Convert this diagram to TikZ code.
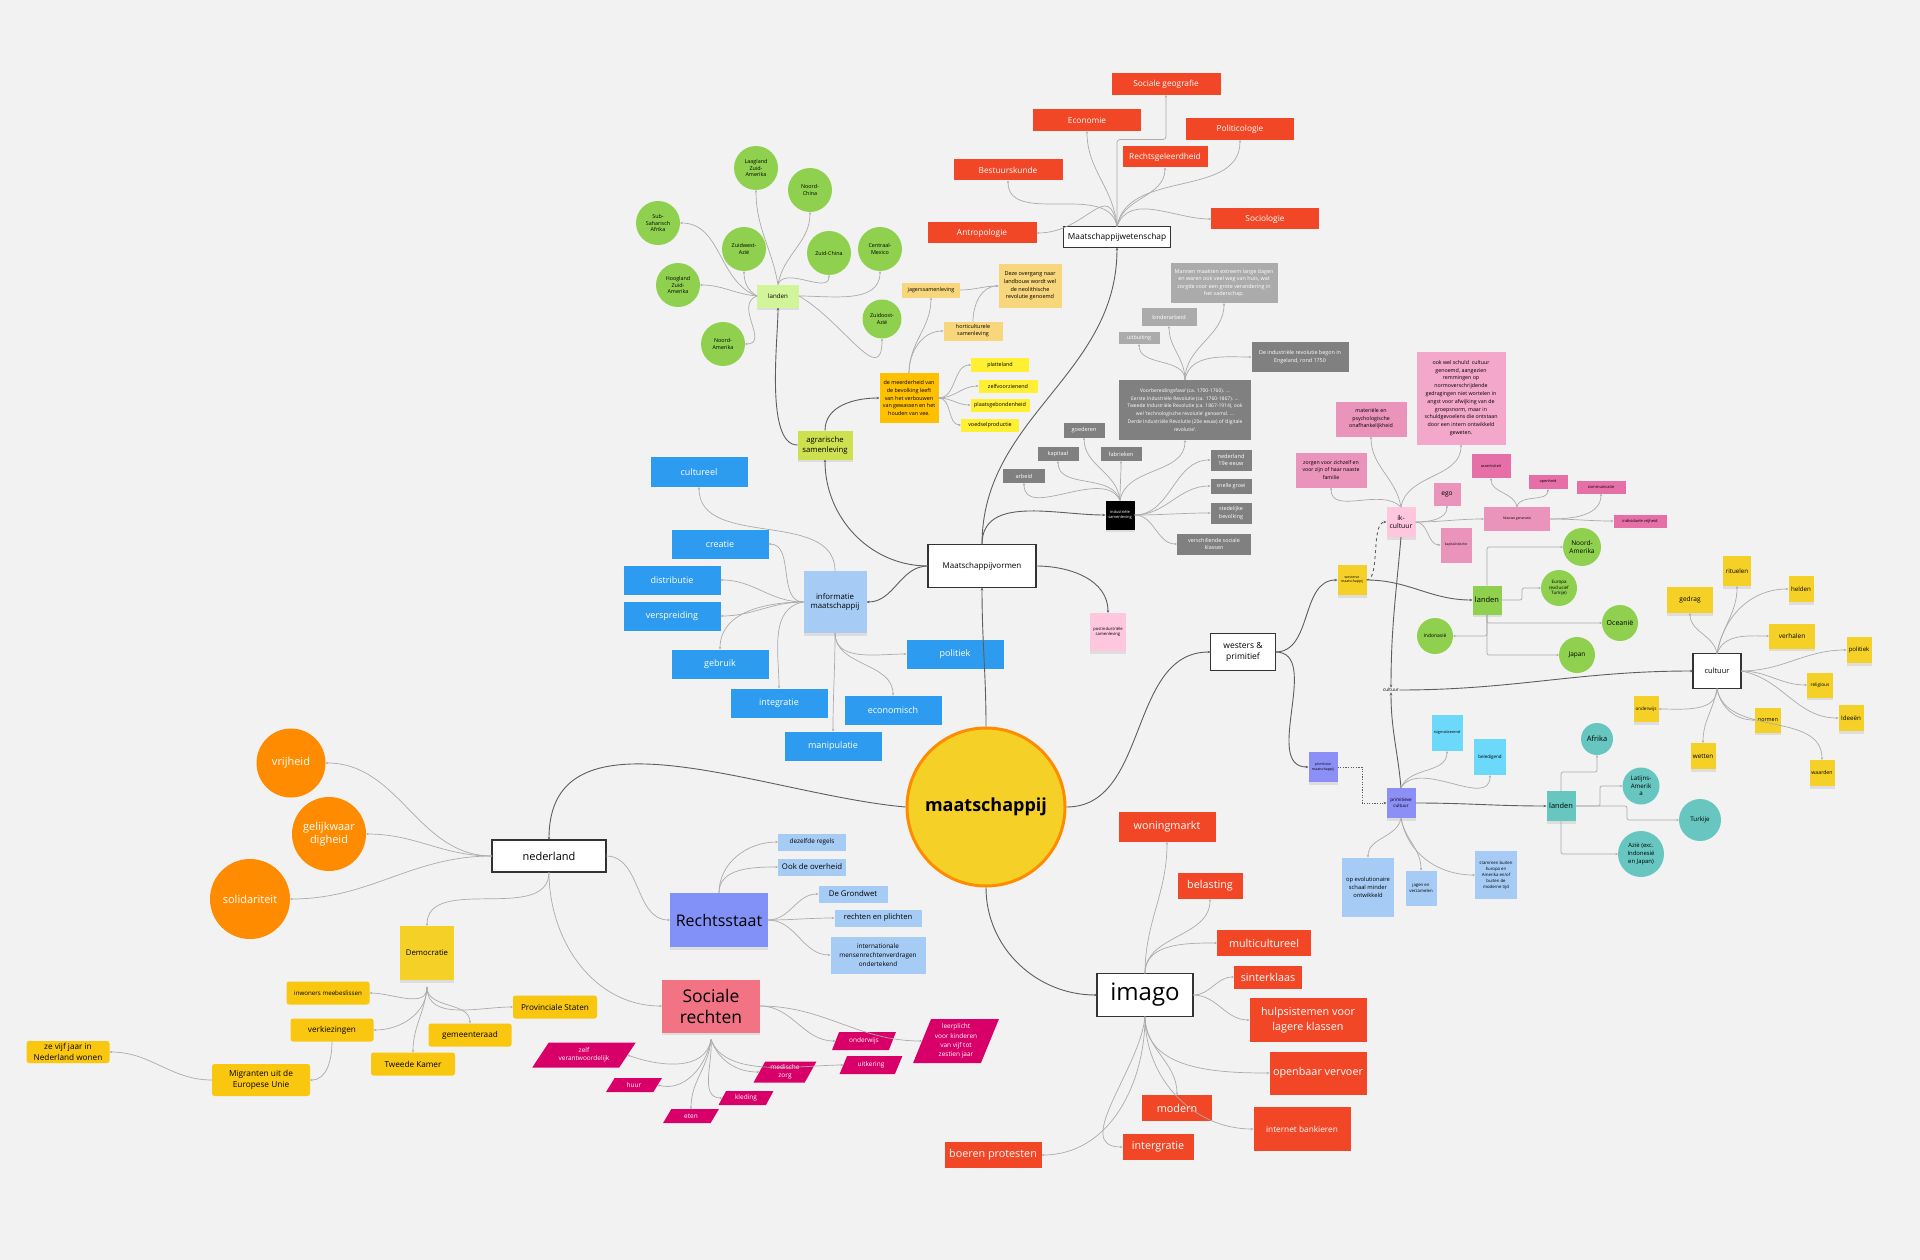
\documentclass[tikz,border=0pt]{standalone}
\usepackage{fontspec}
\setmainfont{Open Sans}
\usetikzlibrary{arrows.meta,shapes.geometric,shadows}
\definecolor{cBg}{HTML}{F2F2F2}
\definecolor{cRed}{HTML}{F24726}
\definecolor{cGreen}{HTML}{8FD14F}
\definecolor{cLGreen}{HTML}{D3F59A}
\definecolor{cLime}{HTML}{CDE04F}
\definecolor{cSand}{HTML}{F7D67C}
\definecolor{cAmber}{HTML}{FAC710}
\definecolor{cGold}{HTML}{FFC000}
\definecolor{cYel}{HTML}{F5D128}
\definecolor{cLemon}{HTML}{FFF033}
\definecolor{cGreyL}{HTML}{ABABAB}
\definecolor{cGreyD}{HTML}{808080}
\definecolor{cPink}{HTML}{EA94BB}
\definecolor{cPinkL}{HTML}{F2A7CB}
\definecolor{cPinkP}{HTML}{FFC7DD}
\definecolor{cPinkD}{HTML}{E66FA8}
\definecolor{cBlue}{HTML}{2D9BF0}
\definecolor{cLBlue}{HTML}{A6CCF5}
\definecolor{cViolet}{HTML}{8291F7}
\definecolor{cPurp}{HTML}{8B8FF6}
\definecolor{cCyan}{HTML}{6CD8FA}
\definecolor{cTeal}{HTML}{67C6C0}
\definecolor{cOrange}{HTML}{FF8C00}
\definecolor{cSalmon}{HTML}{F27384}
\definecolor{cMag}{HTML}{D80068}
\definecolor{cLine}{HTML}{ABABAB}
\definecolor{cLineD}{HTML}{5E5E5E}
\newcommand\mmfs[2]{\fontsize{#1}{#2}\selectfont}
\newcommand\mmbox[7]{\node[#2,minimum width=#5,minimum height=#6] (#1) at (#3,#4) {#7};}
\newcommand\mmcirc[6]{\node[#2,minimum size=#5] (#1) at (#3,#4) {#6};}
\begin{document}
\begin{tikzpicture}[x=1pt,y=-1pt,
  base/.style={align=center, inner sep=0.5pt, outer sep=0pt},
  shd/.style={drop shadow={shadow xshift=0pt, shadow yshift=-2.5pt, opacity=0.18}},
  rbox/.style={base, fill=cRed, text=white},
  wbox/.style={base, fill=white, draw=black!80, line width=1.2pt},
  gcirc/.style={base, circle, fill=cGreen},
  ocirc/.style={base, circle, fill=cOrange, text=white},
  tcirc/.style={base, circle, fill=cTeal},
  bbox/.style={base, fill=cBlue, text=white},
  lbbox/.style={base, fill=cLBlue},
  gryl/.style={base, fill=cGreyL, text=white},
  gryd/.style={base, fill=cGreyD, text=white},
  pnk/.style={base, fill=cPink},
  ylw/.style={base, fill=cYel, shd},
  amb/.style={base, fill=cAmber, rounded corners=2.5pt},
  mag/.style={base, trapezium, trapezium left angle=60, trapezium right angle=120, trapezium stretches=true, fill=cMag, text=white, font=\mmfs{6.5}{8}},
  ln/.style={draw=cLine, line width=0.7pt, -{Stealth[length=2.6pt,width=2.2pt]}},
  lnd/.style={draw=cLineD, line width=0.9pt, -{Stealth[length=3pt,width=2.6pt]}}]
\fill[cBg] (0,0) rectangle (1920,1260);
\path[use as bounding box] (0,0) rectangle (1920,1260);

% ---------- top-left: agrarian ----------
\mmcirc{c1}{gcirc,font=\mmfs{5.4}{6.6}}{756}{168}{44}{Laagland\\Zuid-\\Amerika}
\mmcirc{c2}{gcirc,font=\mmfs{5.4}{6.6}}{810}{190}{44}{Noord-\\China}
\mmcirc{c3}{gcirc,font=\mmfs{5.4}{6.6}}{658}{223}{44}{Sub-\\Saharisch\\Afrika}
\mmcirc{c4}{gcirc,font=\mmfs{5.4}{6.6}}{744}{249}{44}{Zuidwest-\\Azië}
\mmcirc{c5}{gcirc,font=\mmfs{5.4}{6.6}}{829}{253}{44}{Zuid-China}
\mmcirc{c6}{gcirc,font=\mmfs{5.4}{6.6}}{880}{249}{44}{Centraal-\\Mexico}
\mmcirc{c7}{gcirc,font=\mmfs{5.4}{6.6}}{678}{285}{44}{Hoogland\\Zuid-\\Amerika}
\mmcirc{c8}{gcirc,font=\mmfs{5.4}{6.6}}{723}{344}{44}{Noord-\\Amerika}
\mmcirc{c9}{gcirc,font=\mmfs{5.4}{6.6}}{882}{319}{39}{Zuidoost-\\Azië}
\mmbox{land1}{base,fill=cLGreen,shd,font=\mmfs{6.2}{7.5}}{778}{296}{42}{23}{landen}
\mmbox{agr}{base,fill=cLime,shd,font=\mmfs{7.7}{10}}{825}{445}{55}{29}{agrarische\\samenleving}
\mmbox{meer}{base,fill=cGold,font=\mmfs{5.4}{7.6}}{909}{398}{59}{50}{de meerderheid van\\de bevolking leeft\\van het verbouwen\\van gewassen en het\\houden van vee.}
\mmbox{jag}{base,fill=cSand,font=\mmfs{5.4}{6.5}}{931}{290}{58}{15}{jagerssamenleving}
\mmbox{deze}{base,fill=cSand,font=\mmfs{5.5}{7.6}}{1030}{286}{63}{43}{Deze overgang naar\\landbouw wordt wel\\de neolithische\\revolutie genoemd}
\mmbox{horti}{base,fill=cSand,font=\mmfs{5.4}{7}}{973}{331}{59}{19}{horticulturele\\samenleving}
\mmbox{platt}{base,fill=cLemon,font=\mmfs{5.4}{6.5}}{1000}{365}{58}{14}{platteland}
\mmbox{zelfv}{base,fill=cLemon,font=\mmfs{5.4}{6.5}}{1008}{386}{59}{13}{zelfvoorzienend}
\mmbox{plaats}{base,fill=cLemon,font=\mmfs{5.4}{6.5}}{1000}{405}{59}{13}{plaatsgebondenheid}
\mmbox{voeds}{base,fill=cLemon,font=\mmfs{5.4}{6.5}}{990}{425}{58}{13}{voedselproductie}

% ---------- top: Maatschappijwetenschap ----------
\mmbox{socgeo}{rbox,font=\mmfs{8.3}{10}}{1166}{84}{109}{22}{Sociale geografie}
\mmbox{econ}{rbox,font=\mmfs{8.3}{10}}{1087}{120}{108}{22}{Economie}
\mmbox{polit}{rbox,font=\mmfs{8.3}{10}}{1240}{129}{108}{22}{Politicologie}
\mmbox{rechtsg}{rbox,font=\mmfs{8.3}{10}}{1165}{157}{85}{21}{Rechtsgeleerdheid}
\mmbox{bestuur}{rbox,font=\mmfs{8.3}{10}}{1008}{170}{109}{21}{Bestuurskunde}
\mmbox{sociol}{rbox,font=\mmfs{8.3}{10}}{1265}{219}{108}{21}{Sociologie}
\mmbox{antro}{rbox,font=\mmfs{8.3}{10}}{982}{233}{109}{21}{Antropologie}
\mmbox{mw}{wbox,font=\mmfs{8.3}{10}}{1117}{237}{107}{21}{Maatschappijwetenschap}

% ---------- industrial ----------
\mmbox{mannen}{gryl,font=\mmfs{5.4}{7.4}}{1224}{283}{107}{40}{Mannen maakten extreem lange dagen\\en waren ook veel weg van huis, wat\\zorgde voor een grote verandering in\\het vaderschap.}
\mmbox{kinder}{gryl,font=\mmfs{5.6}{7}}{1169}{317}{55}{18}{kinderarbeid}
\mmbox{uitb}{gryl,font=\mmfs{5.4}{6.5}}{1139}{338}{41}{12}{uitbuiting}
\mmbox{engel}{gryd,font=\mmfs{5.4}{7.6}}{1300}{357}{97}{30}{De industriële revolutie begon in\\Engeland, rond 1750}
\mmbox{voorb}{gryd,font=\mmfs{5}{7.8}}{1185}{410}{132}{60}{Voorbereidingsfase' (ca. 1700-1760). ...\\Eerste Industriële Revolutie (ca. 1760-1867). ...\\Tweede Industriële Revolutie (ca. 1867-1914), ook\\wel 'technologische revolutie' genoemd. ...\\Derde Industriële Revolutie (20e eeuw) of 'digitale\\revolutie'.}
\mmbox{goed}{gryd,font=\mmfs{5.6}{7}}{1084}{430}{41}{15}{goederen}
\mmbox{kap}{gryd,font=\mmfs{5.6}{7}}{1058}{454}{41}{14}{kapitaal}
\mmbox{fabr}{gryd,font=\mmfs{5.6}{7}}{1121}{454}{41}{14}{fabrieken}
\mmbox{arb}{gryd,font=\mmfs{5.6}{7}}{1024}{476}{42}{14}{arbeid}
\mmbox{ned19}{gryd,font=\mmfs{5.6}{7.4}}{1231}{460}{41}{21}{nederland\\19e eeuw}
\mmbox{snel}{gryd,font=\mmfs{5.4}{7}}{1231}{486}{41}{15}{snelle groei}
\mmbox{sted}{gryd,font=\mmfs{5.4}{7.4}}{1231}{513}{41}{21}{stedelijke\\bevolking}
\mmbox{versch}{gryd,font=\mmfs{5.4}{7.4}}{1214}{544}{74}{21}{verschillende sociale\\klassen}
\mmbox{ind}{base,fill=black,text=white,shd,font=\mmfs{4}{5}}{1120}{515}{29}{29}{industriële\\samenleving}

% ---------- centre ----------
\node[circle, fill=cYel, draw=cOrange, line width=3pt, minimum size=158, font=\bfseries\mmfs{18}{22}] (maat) at (986,807) {maatschappij};
\mmbox{mv}{wbox,font=\mmfs{8}{10}}{982}{566}{108}{43}{Maatschappijvormen}
\mmbox{post}{base,fill=cPinkP,shd,font=\mmfs{4.2}{5.2}}{1108}{632}{36}{38}{postindustriële\\samenleving}
\mmbox{wp}{wbox,font=\mmfs{8.5}{11}}{1243}{652}{65}{37}{westers \&\\primitief}

% ---------- informatie maatschappij ----------
\mmbox{info}{base,fill=cLBlue,shd,font=\mmfs{7.8}{9.5}}{835}{602}{63}{62}{informatie\\maatschappij}
\mmbox{cult}{bbox,font=\mmfs{9}{11}}{699}{472}{97}{30}{cultureel}
\mmbox{creat}{bbox,font=\mmfs{9}{11}}{720}{544}{97}{29}{creatie}
\mmbox{distr}{bbox,font=\mmfs{9}{11}}{672}{580}{97}{29}{distributie}
\mmbox{versp}{bbox,font=\mmfs{9}{11}}{672}{616}{97}{29}{verspreiding}
\mmbox{gebr}{bbox,font=\mmfs{9}{11}}{720}{664}{97}{29}{gebruik}
\mmbox{integ}{bbox,font=\mmfs{9}{11}}{779}{703}{97}{29}{integratie}
\mmbox{econm}{bbox,font=\mmfs{9}{11}}{893}{710}{97}{29}{economisch}
\mmbox{polb}{bbox,font=\mmfs{9}{11}}{955}{654}{97}{29}{politiek}
\mmbox{manip}{bbox,font=\mmfs{9}{11}}{833}{746}{97}{29}{manipulatie}

% ---------- pink: ik-cultuur ----------
\mmbox{ookwel}{base,fill=cPinkL,font=\mmfs{5.3}{7.8}}{1461}{398}{89}{93}{ook wel schuld\ \ cultuur\\genoemd, aangezien\\remmingen op\\normoverschrijdende\\gedragingen niet wortelen in\\angst voor afwijking van de\\groepsnorm, maar in\\schuldgevoelens die ontstaan\\door een intern ontwikkeld\\geweten.}
\mmbox{mat}{pnk,font=\mmfs{5.3}{7.6}}{1371}{419}{71}{35}{materiële en\\psychologische\\onafhankelijkheid}
\mmbox{zorg}{pnk,font=\mmfs{5.2}{7.6}}{1331}{470}{71}{35}{zorgen voor zichzelf en\\voor zijn of haar naaste\\familie}
\mmbox{ik}{base,fill=cPinkP,shd,font=\mmfs{6.8}{8.2}}{1401}{522}{29}{30}{ik-\\cultuur}
\mmbox{ego}{pnk,font=\mmfs{6.6}{8}}{1447}{494}{27}{23}{ego}
\mmbox{kapit}{pnk,font=\mmfs{3.4}{4.2}}{1456}{545}{31}{35}{kapitalistische}
\mmbox{nieuw}{pnk,font=\mmfs{3.4}{4.2}}{1517}{519}{66}{24}{Nieuwe generatie}
\mmbox{assert}{base,fill=cPinkD,font=\mmfs{3.8}{4.6}}{1491}{466}{39}{24}{assertiviteit}
\mmbox{open}{base,fill=cPinkD,font=\mmfs{3.8}{4.6}}{1548}{482}{39}{14}{openheid}
\mmbox{comm}{base,fill=cPinkD,font=\mmfs{4}{4.8}}{1601}{487}{49}{13}{communicatie}
\mmbox{indiv}{base,fill=cPinkD,font=\mmfs{4}{4.8}}{1640}{521}{53}{13}{individuele vrijheid}

% ---------- right: westerse ----------
\mmbox{westm}{ylw,font=\mmfs{3.5}{4.3}}{1352}{580}{29}{30}{westerse\\maatschappij}
\mmbox{land2}{base,fill=cGreen,shd,font=\mmfs{7.5}{9}}{1487}{600}{29}{29}{landen}
\mmcirc{na2}{gcirc,font=\mmfs{6.5}{8}}{1582}{547}{38}{Noord-\\Amerika}
\mmcirc{eur}{gcirc,font=\mmfs{4.5}{5.8}}{1559}{588}{36}{Europa\\(exclusief\\Turkije)}
\mmcirc{oce}{gcirc,font=\mmfs{7}{8}}{1620}{623}{36}{Oceanië}
\mmcirc{indo}{gcirc,font=\mmfs{5}{6}}{1435}{636}{36}{Indonasië}
\mmcirc{jap}{gcirc,font=\mmfs{6.5}{8}}{1577}{655}{36}{Japan}
\node[base,font=\mmfs{4.7}{5.6}] (cs) at (1391,690) {cultuur};
\mmbox{cul}{wbox,font=\mmfs{7.4}{9}}{1717}{671}{48}{35}{cultuur}
\mmbox{rit}{ylw,font=\mmfs{6.2}{7.5}}{1737}{571}{28}{30}{rituelen}
\mmbox{gedr}{ylw,font=\mmfs{6.6}{8}}{1690}{600}{46}{26}{gedrag}
\mmbox{held}{ylw,font=\mmfs{6.2}{7.5}}{1801}{589}{25}{26}{helden}
\mmbox{verh}{ylw,font=\mmfs{6.5}{8}}{1792}{636}{46}{25}{verhalen}
\mmbox{pol2}{ylw,font=\mmfs{6}{7.5}}{1859}{650}{25}{26}{politiek}
\mmbox{relig}{ylw,font=\mmfs{4.7}{5.6}}{1820}{685}{26}{25}{religious}
\mmbox{idee}{ylw,font=\mmfs{6.2}{7.5}}{1851}{718}{25}{26}{Ideeën}
\mmbox{ond}{ylw,font=\mmfs{4.6}{5.6}}{1646}{709}{25}{26}{onderwijs}
\mmbox{norm}{ylw,font=\mmfs{5.4}{6.5}}{1768}{720}{26}{25}{normen}
\mmbox{wet}{ylw,font=\mmfs{6.3}{7.5}}{1703}{756}{25}{26}{wetten}
\mmbox{waard}{ylw,font=\mmfs{5.2}{6.3}}{1822}{773}{25}{26}{waarden}

% ---------- right: primitief ----------
\mmbox{pm}{base,fill=cPurp,shd,font=\mmfs{3.5}{4.3}}{1323}{767}{29}{30}{primitieve\\maatschappij}
\mmbox{pc}{base,fill=cPurp,shd,font=\mmfs{4.6}{5.6}}{1401}{803}{29}{30}{primitieve\\cultuur}
\mmbox{stig}{base,fill=cCyan,font=\mmfs{3.8}{4.6}}{1447}{733}{31}{36}{stigmatiserend}
\mmbox{bel}{base,fill=cCyan,font=\mmfs{4.5}{5.4}}{1490}{757}{32}{36}{beledigend}
\mmbox{land3}{base,fill=cTeal,shd,font=\mmfs{7.4}{9}}{1561}{806}{29}{30}{landen}
\mmcirc{afr}{tcirc,font=\mmfs{7.5}{9}}{1597}{739}{32}{Afrika}
\mmcirc{lat}{tcirc,font=\mmfs{6.2}{7.6}}{1641}{786}{37}{Latijns-\\Amerik\\a}
\mmcirc{turk}{tcirc,font=\mmfs{6.2}{7.6}}{1700}{820}{42}{Turkije}
\mmcirc{azie}{tcirc,font=\mmfs{5.9}{7.6}}{1641}{854}{46}{Azië (exc.\\Indonesië\\en Japan)}
\mmbox{opev}{lbbox,font=\mmfs{5.8}{8}}{1368}{887}{52}{59}{op evolutionaire\\schaal minder\\ontwikkeld}
\mmbox{jagen}{lbbox,font=\mmfs{4.3}{5.6}}{1421}{888}{31}{35}{jagen en\\verzamelen}
\mmbox{stam}{lbbox,font=\mmfs{4.3}{6}}{1496}{875}{42}{48}{stammen buiten\\Europa en\\Amerika en/of\\buiten de\\moderne tijd}

% ---------- nederland ----------
\mmbox{ned}{wbox,font=\mmfs{11}{13}}{549}{856}{114}{32}{nederland}
\mmcirc{vrij}{ocirc,font=\mmfs{11}{13}}{291}{763}{69}{vrijheid}
\mmcirc{gelijk}{ocirc,font=\mmfs{11}{13.5}}{329}{834}{74}{gelijkwaar\\digheid}
\mmcirc{solid}{ocirc,font=\mmfs{11}{13}}{250}{899}{80}{solidariteit}
\mmbox{dem}{ylw,font=\mmfs{7.8}{9}}{427}{953}{54}{54}{Democratie}
\mmbox{inw}{amb,font=\mmfs{6.2}{7.5}}{328}{993}{83}{23}{inwoners meebeslissen}
\mmbox{verk}{amb,font=\mmfs{8.2}{10}}{332}{1030}{83}{23}{verkiezingen}
\mmbox{prov}{amb,font=\mmfs{8.2}{10}}{555}{1007}{84}{23}{Provinciale Staten}
\mmbox{gem}{amb,font=\mmfs{8.2}{10}}{470}{1035}{83}{23}{gemeenteraad}
\mmbox{tweede}{amb,font=\mmfs{8.2}{10}}{413}{1064}{84}{23}{Tweede Kamer}
\mmbox{vijf}{amb,font=\mmfs{8.2}{10.5}}{68}{1052}{83}{22}{ze vijf jaar in\\Nederland wonen}
\mmbox{migr}{amb,font=\mmfs{8.3}{11}}{261}{1080}{98}{32}{Migranten uit de\\Europese Unie}

% ---------- Rechtsstaat ----------
\mmbox{rs}{base,fill=cViolet,shd,font=\mmfs{16}{19}}{719}{920}{98}{54}{Rechtsstaat}
\mmbox{dez}{lbbox,font=\mmfs{6.4}{7.6}}{812}{842}{68}{17}{dezelfde regels}
\mmbox{ookd}{lbbox,font=\mmfs{7.8}{9}}{812}{867}{68}{17}{Ook de overheid}
\mmbox{grond}{lbbox,font=\mmfs{7.8}{9}}{853}{894}{69}{17}{De Grondwet}
\mmbox{recht}{lbbox,font=\mmfs{7.6}{9}}{878}{918}{87}{17}{rechten en plichten}
\mmbox{intl}{lbbox,font=\mmfs{6.4}{8.8}}{878}{955}{95}{37}{internationale\\mensenrechtenverdragen\\ondertekend}

% ---------- Sociale rechten ----------
\mmbox{socr}{base,fill=cSalmon,shd,font=\mmfs{17.5}{21}}{711}{1006}{98}{53}{Sociale\\rechten}
\mmbox{zv}{mag,trapezium left angle=52,trapezium right angle=128}{584}{1055}{104}{25}{zelf\\verantwoordelijk}
\mmbox{huur}{mag}{634}{1085}{56}{14}{huur}
\mmbox{eten}{mag}{691}{1116}{56}{14}{eten}
\mmbox{kled}{mag}{746}{1098}{55}{14}{kleding}
\mmbox{med}{mag}{785}{1072}{63}{21}{medische\\zorg}
\mmbox{ondw}{mag}{864}{1041}{64}{18}{onderwijs}
\mmbox{uitk}{mag}{871}{1065}{63}{18}{uitkering}
\mmbox{leer}{mag,trapezium left angle=66,trapezium right angle=114,font=\mmfs{6.5}{9.2}}{956}{1041}{86}{44}{leerplicht\\voor kinderen\\van vijf tot\\zestien jaar}

% ---------- imago ----------
\mmbox{im}{wbox,font=\mmfs{24}{28}}{1145}{995}{96}{43}{imago}
\mmbox{woning}{rbox,font=\mmfs{10.8}{13}}{1167}{827}{97}{30}{woningmarkt}
\mmbox{belast}{rbox,font=\mmfs{10.8}{13}}{1210}{886}{65}{26}{belasting}
\mmbox{multi}{rbox,font=\mmfs{10.8}{13}}{1264}{943}{94}{26}{multicultureel}
\mmbox{sinter}{rbox,font=\mmfs{10.8}{13}}{1268}{977}{68}{23}{sinterklaas}
\mmbox{hulp}{rbox,font=\mmfs{10.8}{14.5}}{1308}{1020}{117}{44}{hulpsistemen voor\\lagere klassen}
\mmbox{openb}{rbox,font=\mmfs{10.8}{13}}{1318}{1073}{97}{43}{openbaar vervoer}
\mmbox{modern}{rbox,font=\mmfs{10.8}{13}}{1177}{1108}{70}{26}{modern}
\mmbox{inet}{rbox,font=\mmfs{8.3}{10}}{1302}{1129}{97}{44}{internet bankieren}
\mmbox{interg}{rbox,font=\mmfs{10.8}{13}}{1158}{1147}{71}{26}{intergratie}
\mmbox{boer}{rbox,font=\mmfs{10.8}{13}}{993}{1155}{97}{26}{boeren protesten}

% ================= connectors =================
% agrarian
\draw[ln] (land1.west) to[out=160,in=0] (c3.east);
\draw[ln] (land1.west) to[out=175,in=0] (c7.east);
\draw[ln] (land1.west) to[out=200,in=0,looseness=1.3] (c8.east);
\draw[ln] (land1.west) to[out=150,in=-90] (c4.south);
\draw[ln] (land1.north) to[out=100,in=-90] (c1.south);
\draw[ln] (land1.north) to[out=80,in=-90] (c2.south);
\draw[ln] (land1.north) to[out=70,in=-90] (c5.south);
\draw[ln] (land1.east) to[out=0,in=-90] (c6.south);
\draw[ln] (land1.east) to[out=-30,in=-90,looseness=1.4] (c9.south);
\draw[lnd] (agr.west) to[out=180,in=-90,looseness=0.6] (land1.south);
\draw[lnd] (agr.north) to[out=90,in=180] (meer.west);
\draw[ln] (meer.north) to[out=90,in=-90] (jag.south);
\draw[ln] (meer.north) to[out=90,in=180] (horti.west);
\draw[ln] (jag.east) to[out=0,in=180] (deze.west);
\draw[ln] (horti.north) to[out=90,in=180] (deze.west);
\draw[ln] (meer.east) to[out=0,in=180] (platt.west);
\draw[ln] (meer.east) to[out=0,in=180] (zelfv.west);
\draw[ln] (meer.east) to[out=0,in=180] (plaats.west);
\draw[ln] (meer.east) to[out=0,in=180] (voeds.west);

% Maatschappijwetenschap
\draw[ln] (mw.north) to[out=100,in=0,looseness=1.6] (antro.east);
\draw[ln] (mw.north) to[out=100,in=-90] (bestuur.south);
\draw[ln] (mw.north) to[out=95,in=-90] (econ.south);
\draw[ln,rounded corners=3pt] (mw.north) -- ++(0,-87) -| (socgeo.south);
\draw[ln] (mw.north) to[out=80,in=-90] (rechtsg.south);
\draw[ln] (mw.north) to[out=80,in=-90] (polit.south);
\draw[ln] (mw.north) to[out=70,in=180] (sociol.west);

% Maatschappijvormen
\draw[lnd] (maat.north) to[out=90,in=-90] (mv.south);
\draw[lnd] (mv.north) to[out=90,in=-90] (mw.south);
\draw[lnd] (mv.north) to[out=90,in=180] (ind.west);
\draw[lnd] (mv.west) to[out=180,in=-90] (agr.south);
\draw[lnd] (mv.west) to[out=180,in=0] (info.east);
\draw[lnd] (mv.east) to[out=0,in=90] (post.north);

% industrial
\draw[ln] (ind.north) to[out=95,in=-90] (goed.south);
\draw[ln] (ind.north) to[out=105,in=-90] (kap.south);
\draw[ln] (ind.north) to[out=90,in=-90] (fabr.south);
\draw[ln] (ind.north) to[out=115,in=-90] (arb.south);
\draw[ln] (ind.north) to[out=80,in=-90] (voorb.south);
\draw[ln] (ind.east) to[out=0,in=180] (ned19.west);
\draw[ln] (ind.east) to[out=0,in=180] (snel.west);
\draw[ln] (ind.east) to[out=0,in=180] (sted.west);
\draw[ln] (ind.east) to[out=0,in=180] (versch.west);
\draw[ln] (voorb.north) to[out=90,in=-90] (uitb.south);
\draw[ln] (voorb.north) to[out=90,in=-90] (kinder.south);
\draw[ln] (voorb.north) to[out=90,in=-90] (mannen.south);
\draw[ln] (voorb.north) to[out=80,in=180] (engel.west);

% informatie maatschappij
\draw[ln] (info.north) to[out=90,in=-90] (cult.south);
\draw[ln] (info.west) to[out=180,in=0] (creat.east);
\draw[ln] (info.west) to[out=180,in=0] (distr.east);
\draw[ln] (info.west) to[out=180,in=0] (versp.east);
\draw[ln] (info.west) to[out=180,in=90] (gebr.north);
\draw[ln] (info.west) to[out=190,in=90] (integ.north);
\draw[ln] (info.south) to[out=-90,in=180] (polb.west);
\draw[ln] (info.south) to[out=-90,in=90] (econm.north);
\draw[ln] (info.south) to[out=-90,in=90] (manip.north);

% centre
\draw[lnd] (maat.west) to[out=175,in=90] (ned.north);
\draw[lnd] (maat.east) to[out=0,in=180] (wp.west);
\draw[lnd] (maat.south) to[out=-90,in=180] (im.west);

% nederland
\draw[ln] (ned.west) to[out=180,in=0] (vrij.east);
\draw[ln] (ned.west) to[out=180,in=0] (gelijk.east);
\draw[ln] (ned.west) to[out=180,in=0] (solid.east);
\draw[ln] (ned.south) to[out=-90,in=90] (dem.north);
\draw[ln] (ned.south) to[out=-90,in=180] (socr.west);
\draw[ln] (ned.east) to[out=0,in=180] (rs.west);
\draw[ln] ([yshift=-7pt]dem.south) to[out=-90,in=0] (inw.east);
\draw[ln] ([yshift=-7pt]dem.south) to[out=-90,in=180] (prov.west);
\draw[ln] ([yshift=-7pt]dem.south) to[out=-90,in=90] (gem.north);
\draw[ln] ([yshift=-7pt]dem.south) to[out=-90,in=0] (verk.east);
\draw[ln] ([yshift=-7pt]dem.south) to[out=-95,in=90] (tweede.north);
\draw[ln] (verk.south) to[out=-90,in=0] (migr.east);
\draw[ln] (migr.west) to[out=180,in=0] (vijf.east);

% Rechtsstaat
\draw[ln] (rs.north) to[out=90,in=180] (dez.west);
\draw[ln] (rs.north) to[out=90,in=180] (ookd.west);
\draw[ln] (rs.east) to[out=0,in=180] (grond.west);
\draw[ln] (rs.east) to[out=0,in=180] (recht.west);
\draw[ln] (rs.east) to[out=0,in=180] (intl.west);

% Sociale rechten
\draw[ln] (socr.east) to[out=0,in=180] (ondw.west);
\draw[ln] (socr.east) to[out=0,in=180] (leer.west);
\draw[ln] ([yshift=-7pt]socr.south) to[out=-100,in=-20] (zv.east);
\draw[ln] ([yshift=-7pt]socr.south) to[out=-100,in=-15] (huur.east);
\draw[ln] ([yshift=-7pt]socr.south) to[out=-95,in=90] (eten.north);
\draw[ln] ([yshift=-7pt]socr.south) to[out=-85,in=180] (kled.west);
\draw[ln] ([yshift=-7pt]socr.south) to[out=-70,in=180] (med.west);
\draw[ln] ([yshift=-7pt]socr.south) to[out=-70,in=180,looseness=0.8] (uitk.west);

% imago
\draw[ln] (im.north) to[out=90,in=-90] (woning.south);
\draw[ln] (im.north) to[out=90,in=-90] (belast.south);
\draw[ln] (im.north) to[out=90,in=180] (multi.west);
\draw[ln] (im.east) to[out=0,in=180] (sinter.west);
\draw[ln] (im.east) to[out=0,in=180] (hulp.west);
\draw[ln] (im.south) to[out=-90,in=180] (openb.west);
\draw[ln] (im.south) to[out=-90,in=90] (modern.north);
\draw[ln] (im.south) to[out=-90,in=180] (inet.west);
\draw[ln] (im.south) to[out=-95,in=180] (interg.west);
\draw[ln] (im.south) to[out=-90,in=0] (boer.east);

% westers & primitief
\draw[lnd] (wp.east) to[out=0,in=180] (westm.west);
\draw[lnd] (wp.east) to[out=0,in=180] (pm.west);
\draw[lnd,dashed] (westm.east) .. controls +(14,0) and +(-16,0) .. (ik.west);
\draw[lnd] (westm.east) to[out=0,in=180] (land2.west);
\draw[ln,rounded corners=2pt] (land2.north) |- (na2.west);
\draw[ln,rounded corners=2pt] (land2.east) -| (1522,588) -- (eur.west);
\draw[ln,rounded corners=2pt] (land2.south) |- (oce.west);
\draw[ln,rounded corners=2pt] (land2.south) |- (indo.east);
\draw[ln,rounded corners=2pt] (land2.south) |- (jap.west);

% ik-cultuur
\draw[ln] (ik.north) to[out=135,in=-90] (zorg.south);
\draw[ln] (ik.north) to[out=100,in=-90] (mat.south);
\draw[ln] (ik.north) to[out=80,in=-90] (ookwel.south);
\draw[ln] (ik.east) to[out=0,in=-90] (ego.south);
\draw[ln] (ik.east) to[out=0,in=180] (kapit.west);
\draw[ln] (ik.east) to[out=0,in=180] (nieuw.west);
\draw[ln] (nieuw.north) to[out=100,in=-90] (assert.south);
\draw[ln] (nieuw.north) to[out=80,in=-90] (open.south);
\draw[ln] (nieuw.east) to[out=0,in=-90] (comm.south);
\draw[ln] (nieuw.east) to[out=0,in=180] (indiv.west);
\draw[lnd] (ik.south) to[out=-95,in=90] (cs.north);
\draw[lnd] (cs.east) to[out=0,in=180] (cul.west);
\draw[lnd] (pc.north) to[out=95,in=-90] (cs.south);

% cultuur
\draw[ln] (cul.north) to[out=100,in=-90] (gedr.south);
\draw[ln] (cul.north) to[out=80,in=-90] (rit.south);
\draw[ln] (cul.north) to[out=80,in=180] (held.west);
\draw[ln] (cul.north) to[out=70,in=180] (verh.west);
\draw[ln] (cul.east) to[out=0,in=180] (pol2.west);
\draw[ln] (cul.east) to[out=0,in=180] (relig.west);
\draw[ln] (cul.east) to[out=-10,in=180] (idee.west);
\draw[ln] (cul.south) to[out=-90,in=0] (ond.east);
\draw[ln] (cul.south) to[out=-80,in=180] (norm.west);
\draw[ln] (cul.south) to[out=-100,in=90] (wet.north);
\draw[ln] (cul.south) to[out=-80,in=90] (waard.north);

% primitief
\draw[lnd,dash pattern=on 1.3pt off 1.3pt] (pm.east) -| (1362,803) -- (pc.west);
\draw[ln] (pc.north) to[out=70,in=-90] (stig.south);
\draw[ln] (pc.north) to[out=60,in=-90] (bel.south);
\draw[lnd] (pc.east) to[out=0,in=180] (land3.west);
\draw[ln] (pc.south) to[out=-100,in=90] (opev.north);
\draw[ln] (pc.south) to[out=-80,in=90] (jagen.north);
\draw[ln] (pc.south) to[out=-80,in=180] (stam.west);
\draw[ln,rounded corners=2pt] (land3.north) |- (1597,772) -- (afr.south);
\draw[ln,rounded corners=2pt] (land3.east) -| (1600,786) -- (lat.west);
\draw[ln,rounded corners=2pt] (land3.east) -| (1627,820) -- (turk.west);
\draw[ln,rounded corners=2pt] (land3.south) |- (azie.west);
\end{tikzpicture}
\end{document}
